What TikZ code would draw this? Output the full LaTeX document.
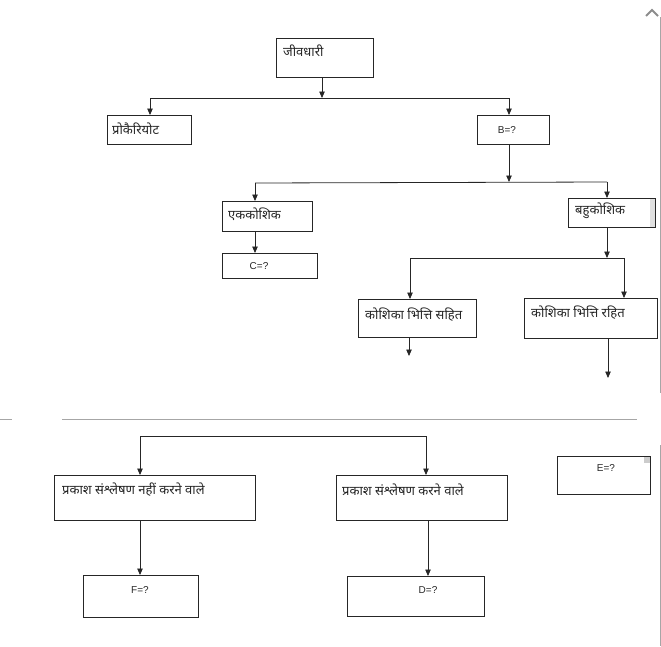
\documentclass[tikz,border=0pt]{standalone}
\usepackage{fontspec}
\newfontfamily\dev[Script=Devanagari]{Noto Sans}
\newfontfamily\lat{Liberation Sans}
\usetikzlibrary{arrows.meta}
\tikzset{
  box/.style={draw=black!85, line width=0.8pt, rectangle, anchor=north west, inner sep=0pt},
  devtext/.style={font=\dev\fontsize{13}{15}\selectfont, anchor=west, inner sep=0pt, text=black!85},
  lattext/.style={font=\lat\fontsize{10}{12}\selectfont, inner sep=0pt, text=black!85},
  arr/.style={draw=black!85, line width=0.8pt, -{Triangle[length=6.5pt,width=5.5pt]}},
  ln/.style={draw=black!85, line width=0.8pt},
  frame/.style={draw=black!35, line width=0.8pt}
}
\begin{document}
\begin{tikzpicture}[x=1pt,y=-1pt]
\useasboundingbox (0,0) rectangle (661,646);
% window decorations
\draw[frame] (660,17) -- (660,393);
\draw[frame] (660,445) -- (660,646);
\draw[frame] (0,419) -- (12,419);
\draw[frame] (62,419) -- (637,419);
\draw[draw=black!45, line width=2pt] (646,16) -- (652,10) -- (658,16);

% boxes
\node[box, minimum width=97pt, minimum height=39pt] (jiv) at (276,38) {};
\node[box, minimum width=84pt, minimum height=29pt] (pro) at (107,115) {};
\node[box, minimum width=72pt, minimum height=29pt] (B) at (477,115) {};
\node[box, minimum width=90pt, minimum height=30pt] (ek) at (222,201) {};
\node[box, minimum width=95pt, minimum height=25pt] (C) at (222,253) {};
\fill[black!12] (650,198) rectangle (655,227);
\node[box, minimum width=87pt, minimum height=29pt] (bahu) at (568,198) {};
\node[box, minimum width=118pt, minimum height=38pt] (ksa) at (358,299) {};
\node[box, minimum width=133pt, minimum height=40pt] (kra) at (524,298) {};
\fill[black!20] (644,456) rectangle (650,463);
\node[box, minimum width=93pt, minimum height=38pt] (E) at (557,456) {};
\node[box, minimum width=201pt, minimum height=45pt] (n1) at (54,475) {};
\node[box, minimum width=171pt, minimum height=45pt] (k1) at (336,475) {};
\node[box, minimum width=115pt, minimum height=42pt] (F) at (83,575) {};
\node[box, minimum width=137pt, minimum height=40pt] (D) at (347,576) {};

% texts
\node[devtext] (tjiv) at (283,51) {जीवधारी};
\node[devtext] (tpro) at (112,129) {प्रोकैरियोट};
\node[lattext] (tB) at (507,130) {B=?};
\node[devtext] (tek) at (228,214) {एककोशिक};
\node[lattext] (tC) at (259,266) {C=?};
\node[devtext] (tbahu) at (575,211) {बहुकोशिक};
\node[devtext] (tksa) at (365,315) {कोशिका भित्ति सहित};
\node[devtext] (tkra) at (531,313) {कोशिका भित्ति रहित};
\node[lattext] (tE) at (606,468) {E=?};
\node[devtext] (tn1) at (62,490) {प्रकाश संश्लेषण नहीं करने वाले};
\node[devtext] (tk1) at (342,490) {प्रकाश संश्लेषण करने वाले};
\node[lattext] (tF) at (140,590) {F=?};
\node[lattext] (tD) at (428,590) {D=?};

% junction coordinates
\coordinate (j1) at (322,98);
\coordinate (j1l) at (150,98);
\coordinate (j1r) at (509,98);
\coordinate (j2) at (509,182);
\coordinate (j2l) at (255,183);
\coordinate (j2r) at (607,182);
\coordinate (j3) at (607,258);
\coordinate (j3l) at (410,258);
\coordinate (j3r) at (624,258);
\coordinate (e1) at (409,356);
\coordinate (e2) at (608,378);
\coordinate (j4l) at (140,436);
\coordinate (j4r) at (426,436);
\coordinate (xk) at (428,0);

% connectors
\draw[arr] (j1 |- jiv.south) -- (j1);
\draw[ln] (j1l) -- (j1r);
\draw[arr] (j1l) -- (j1l |- pro.north);
\draw[arr] (j1r) -- (j1r |- B.north);
\draw[arr] (j2 |- B.south) -- (j2);
\draw[ln] (j2l) -- (j2r);
\draw[arr] (j2l) -- (j2l |- ek.north);
\draw[arr] (j2r) -- (j2r |- bahu.north);
\draw[arr] (j2l |- ek.south) -- (j2l |- C.north);
\draw[arr] (j3 |- bahu.south) -- (j3);
\draw[ln] (j3l) -- (j3r);
\draw[arr] (j3l) -- (j3l |- ksa.north);
\draw[arr] (j3r) -- (j3r |- kra.north);
\draw[arr] (e1 |- ksa.south) -- (e1);
\draw[arr] (e2 |- kra.south) -- (e2);
\draw[ln] (j4l) -- (j4r);
\draw[arr] (j4l) -- (j4l |- n1.north);
\draw[arr] (j4r) -- (j4r |- k1.north);
\draw[arr] (j4l |- n1.south) -- (j4l |- F.north);
\draw[arr] (xk |- k1.south) -- (xk |- D.north);
\end{tikzpicture}
\end{document}
